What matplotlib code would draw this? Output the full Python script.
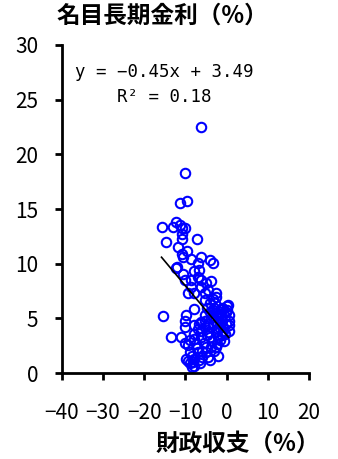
import matplotlib
matplotlib.use("Agg")
from matplotlib import pyplot as plt
import numpy as np

plt.rcParams['font.family'] = ['Noto Sans CJK JP', 'DejaVu Sans']

# fiscal balance (% of GDP) vs nominal long-term rate (%)
balance = [-6.3, -10.0, -11.4, -9.5, -15.8, -12.4, -12.9, -11.4, -10.9, -10.0,
           -10.9, -10.9, -7.3, -14.8, -11.9, -9.7, -10.9, -10.7, -6.3, -4.1,
           -8.7, -3.2, -7.0, -12.1,
           -12.2, -10.6, -7.8, -6.6, -7.0, -8.6, -6.1, -10.2, -4.9, -3.7,
           -8.6, -6.1, -4.5, -9.4, -7.8, -5.3, -2.5, -3.3, -2.5, -5.3,
           -4.1, -2.9, 0.3, -0.9, -3.3, -1.7, -0.1, 0.7, -5.3, -7.8,
           -9.8, -15.5, -10.2, -6.1, -5.3, -3.3, -1.3, 0.7, -10.2, -7.8,
           -5.3, -3.3, -1.7, -0.1, 0.7, -6.1, -4.5, -2.5, -0.9, -13.4,
           -11.0, -7.8, -6.1, -4.1, -2.0, -9.4, -7.4, -5.0, -3.7, -2.5,
           -9.0, -7.0, -4.9, -2.0, -9.8, -8.0, -5.9, -4.5, -8.8, -7.8,
           -8.2, -8.4,
           -2.0, -1.0, -0.5, -1.5, -2.2, -0.8, 0.2, -1.8, -2.8, -0.3,
           -1.2, 0.5, -2.6, -3.8, -4.5, -4.0, -3.0, -4.8, -1.2, 0.0,
           -7.2, -6.0, -8.5, -6.8, -5.5, -3.0, -4.0, -6.5, -9.3,
           -7.0, -6.6, -4.8, -8.0, -9.0, -10.0, -1.6, -0.6, -3.5, -2.3]
rate = [22.5, 18.3, 15.6, 15.7, 13.4, 13.8, 13.4, 13.5, 13.3, 13.3,
        12.7, 12.3, 12.3, 12.0, 11.5, 11.2, 10.9, 10.6, 10.6, 10.3,
        10.4, 10.1, 10.1, 9.7,
        9.6, 9.1, 9.3, 9.4, 8.8, 8.5, 8.5, 8.5, 8.2, 8.4,
        7.9, 7.9, 7.6, 7.3, 7.3, 7.3, 7.3, 6.8, 7.0, 6.7,
        6.4, 6.4, 6.2, 5.9, 5.8, 5.6, 5.6, 5.3, 5.3, 5.9,
        5.3, 5.2, 4.8, 4.7, 4.8, 5.2, 5.0, 4.8, 4.2, 4.4,
        4.2, 4.4, 4.5, 4.5, 3.9, 3.9, 3.8, 3.9, 3.9, 3.3,
        3.3, 3.1, 3.3, 3.3, 3.3, 2.6, 2.7, 2.4, 2.4, 2.4,
        1.9, 1.9, 1.9, 1.6, 1.3, 1.3, 1.5, 1.5, 0.9, 0.7,
        1.0, 0.6,
        4.0, 4.8, 5.2, 5.4, 5.0, 4.2, 5.8, 4.2, 4.8, 3.6,
        3.5, 4.4, 5.5, 5.0, 4.5, 5.6, 6.0, 6.0, 6.0, 6.1,
        2.3, 2.0, 1.6, 1.2, 2.8, 2.0, 1.2, 0.9, 1.1,
        4.0, 4.5, 3.5, 3.6, 3.0, 2.8, 3.0, 2.9, 2.9, 2.7]

slope, intercept, r2 = -0.45, 3.49, 0.18
fit_x = np.array([-15.8, 0.5])

fig = plt.figure(figsize=(3.38, 4.59), dpi=100)
ax = fig.add_axes([0.183, 0.187, 0.731, 0.715])

ax.plot(balance, rate, 'o', ms=6.8, mfc='none', mec='#0000ff', mew=1.5)
ax.plot(fit_x, slope * fit_x + intercept, color='black', lw=1.2)

ax.set_xlim(-40, 20)
ax.set_ylim(0, 30)
ax.set_xticks(range(-40, 21, 10))
ax.set_yticks(range(0, 31, 5))
ax.set_xticklabels(['−40', '−30', '−20', '−10', '0', '10', '20'])

for s in ['top', 'right']:
    ax.spines[s].set_visible(False)
for s in ['left', 'bottom']:
    ax.spines[s].set_linewidth(2)
ax.tick_params(axis='both', direction='out', length=5, width=2, labelsize=15)
ax.tick_params(axis='x', pad=16)
ax.tick_params(axis='y', pad=12)

eq_font = dict(fontsize=12.5, family='DejaVu Sans Mono', va='center')
ax.text(-36.9, 27.5, 'y = −0.45x + 3.49', **eq_font)
ax.text(-26.5, 25.2, 'R² = 0.18', **eq_font)

fig.text(0.479, 0.965, '名目長期金利（%）', fontsize=17, fontweight='bold',
         ha='center', va='center')
fig.text(0.704, 0.033, '財政収支（%）', fontsize=17, fontweight='bold',
         ha='center', va='center')

fig.savefig('out.png', dpi=100)
